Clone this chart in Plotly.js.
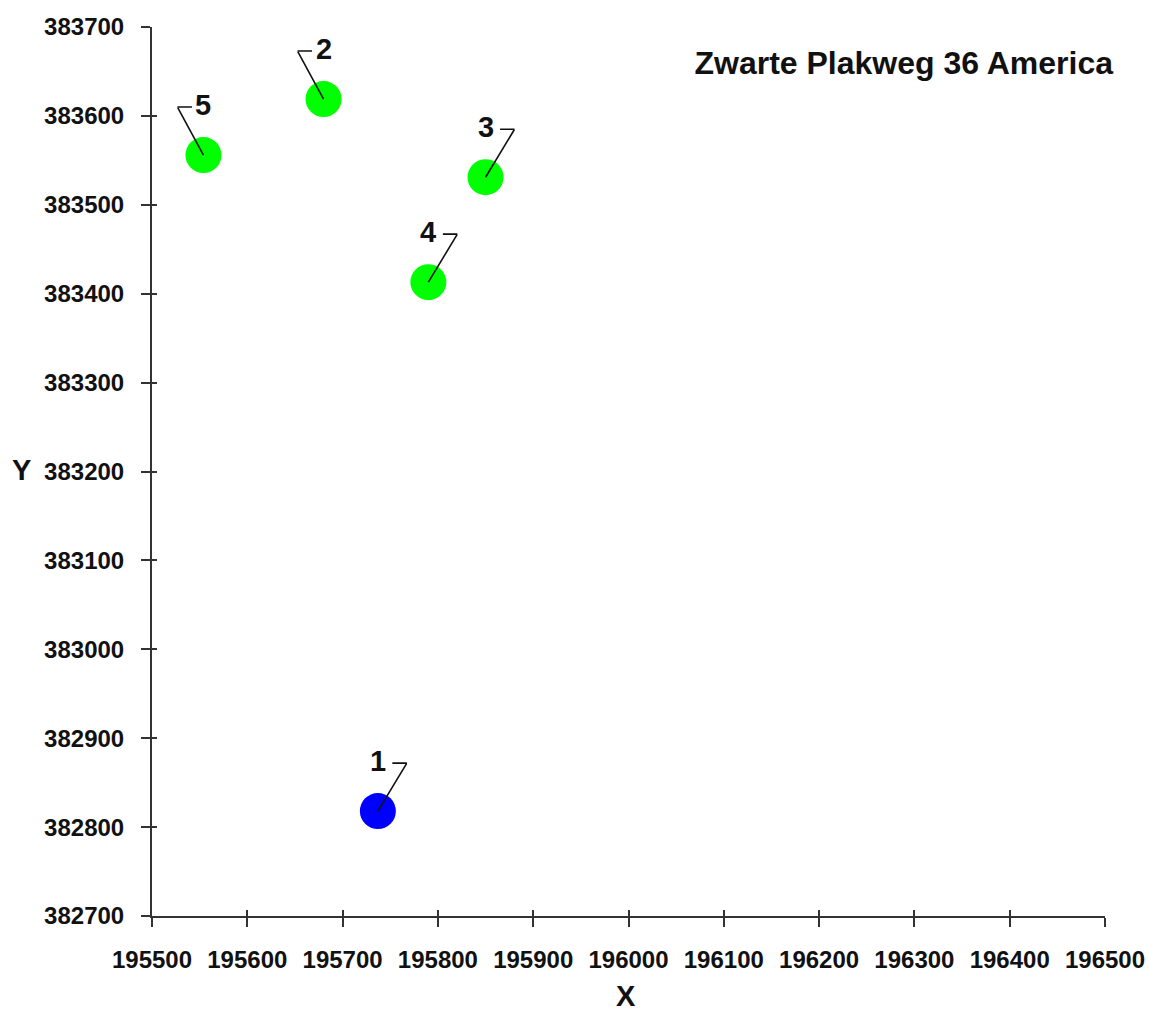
<!DOCTYPE html>
<html>
<head>
<meta charset="utf-8">
<script src="https://cdn.plot.ly/plotly-3.0.1.min.js"></script>
<style>html,body{margin:0;padding:0;background:#fff;}#chart{width:1149px;height:1012px;}</style>
</head>
<body>
<div id="chart"></div>
<script>
// Data
const pointLabels = ["1", "2", "3", "4", "5"];
const xValues = [195737, 195680, 195850, 195790, 195554];
const yValues = [382818, 383619, 383531, 383413, 383556];
const pointColors = ["#0000ff", "#00ff00", "#00ff00", "#00ff00", "#00ff00"];
const labelSide = [1, -1, 1, 1, -1]; // 1 = leader to the right, -1 = to the left
const chartTitle = "Zwarte Plakweg 36 America";
const xRange = [195500, 196500];
const yRange = [382700, 383700];

const FONT = "Liberation Sans, Arial, sans-serif";
const INK = "#111111";
const AXIS = "#333333";

const traces = [
  {
    type: "scatter", mode: "markers",
    x: xValues, y: yValues,
    marker: {size: 36, color: pointColors, line: {width: 0}},
    hoverinfo: "x+y", showlegend: false
  },
  {
    type: "scatter", mode: "markers",
    x: xValues, y: yValues, xaxis: "x2", yaxis: "y2",
    marker: {size: 1, opacity: 0}, hoverinfo: "skip", showlegend: false
  }
];

const annotations = [];
pointLabels.forEach((lab, i) => {
  const s = labelSide[i];
  const cx = s > 0 ? 29 : -26;
  // label
  annotations.push({
    x: xValues[i], y: yValues[i], xref: "x", yref: "y",
    text: "<b>" + lab + "</b>", showarrow: false, yshift: 50, xshift: 0,
    font: {family: FONT, size: 29, color: INK}
  });
  // diagonal leader
  annotations.push({
    x: xValues[i], y: yValues[i], xref: "x", yref: "y",
    text: "", showarrow: true, arrowhead: 0, arrowwidth: 1.6, arrowcolor: "#111",
    ax: cx, ay: -48, borderpad: 0, font: {size: 1}
  });
  // horizontal leader bar
  annotations.push({
    x: xValues[i], y: yValues[i], xref: "x", yref: "y",
    text: "", showarrow: true, arrowhead: 0, arrowwidth: 1.6, arrowcolor: "#111",
    xshift: cx, yshift: 48, ax: -s * 15, ay: 0, borderpad: 0, font: {size: 1}
  });
});
annotations.push({
  xref: "paper", yref: "paper", x: 0.497, y: -0.09, xanchor: "center", yanchor: "middle",
  text: "<b>X</b>", showarrow: false, font: {family: FONT, size: 29, color: INK}
});
annotations.push({
  xref: "paper", yref: "paper", x: -0.137, y: 0.502, xanchor: "center", yanchor: "middle",
  text: "<b>Y</b>", showarrow: false, font: {family: FONT, size: 29, color: INK}
});

const baseAxis = {
  showgrid: false, zeroline: false, showline: true, linecolor: AXIS, linewidth: 2,
  ticks: "outside", ticklen: 9, tickwidth: 2, tickcolor: AXIS,
  dtick: 100, tickformat: "d", fixedrange: true,
  tickfont: {family: FONT, size: 24, color: INK, weight: "bold"}
};

const layout = {
  width: 1149, height: 1012,
  margin: {l: 152, r: 44, t: 27, b: 96},
  paper_bgcolor: "#ffffff", plot_bgcolor: "#ffffff",
  showlegend: false,
  title: {
    text: "<b>" + chartTitle + "</b>",
    xref: "container", yref: "container",
    x: 0.9687, xanchor: "right", y: 1 - 63 / 1012, yanchor: "middle",
    font: {family: FONT, size: 32, color: INK}
  },
  xaxis: Object.assign({}, baseAxis, {range: xRange, tick0: 195500, ticklabelstandoff: 12}),
  yaxis: Object.assign({}, baseAxis, {range: yRange, tick0: 382700, ticklabelstandoff: 12}),
  xaxis2: {
    overlaying: "x", anchor: "y2", range: xRange, tick0: 195500, dtick: 100,
    showgrid: false, zeroline: false, showline: false, showticklabels: false,
    ticks: "inside", ticklen: 6, tickwidth: 2, tickcolor: AXIS, fixedrange: true
  },
  yaxis2: {
    overlaying: "y", anchor: "x2", range: yRange, tick0: 382700, dtick: 100,
    showgrid: false, zeroline: false, showline: false, showticklabels: false,
    ticks: "inside", ticklen: 5, tickwidth: 2, tickcolor: AXIS, fixedrange: true
  },
  annotations: annotations
};

Plotly.newPlot("chart", traces, layout, {displayModeBar: false, staticPlot: true});
</script>
</body>
</html>
